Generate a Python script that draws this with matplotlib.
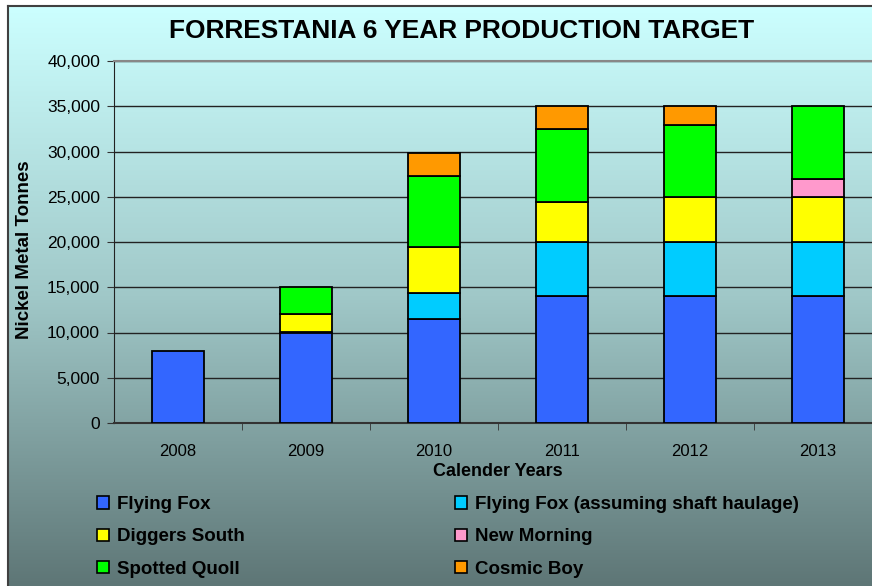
import numpy as np
import matplotlib.pyplot as plt
from matplotlib.colors import LinearSegmentedColormap
from matplotlib.patches import Patch

plt.rcParams['font.family'] = ['Liberation Sans', 'DejaVu Sans']

# данные
years = ['2008', '2009', '2010', '2011', '2012', '2013']
flying_fox = [8000, 10000, 11500, 14000, 14000, 14000]
flying_fox_shaft = [0, 0, 2900, 6000, 6000, 6000]
diggers_south = [0, 2000, 5000, 4400, 5000, 5000]
new_morning = [0, 0, 0, 0, 0, 2000]
spotted_quoll = [0, 3000, 7900, 8100, 7900, 8000]
cosmic_boy = [0, 0, 2500, 2500, 2100, 0]

series = [
    ('Flying Fox', flying_fox, '#3366FF'),
    ('Flying Fox (assuming shaft haulage)', flying_fox_shaft, '#00CCFF'),
    ('Diggers South', diggers_south, '#FFFF00'),
    ('New Morning', new_morning, '#FF99CC'),
    ('Spotted Quoll', spotted_quoll, '#00FF00'),
    ('Cosmic Boy', cosmic_boy, '#FF9900'),
]

W, H = 872, 586
fig = plt.figure(figsize=(W / 100, H / 100), dpi=100)
fig.patch.set_facecolor('white')

# фон с градиентом
bg = fig.add_axes([8 / W, 0, 1 - 8 / W, 1 - 6 / H])
cmap = LinearSegmentedColormap.from_list(
    'bg', [(0.0, '#CCFFFF'), (0.5, '#A0C8C8'), (1.0, '#5E7676')])
grad = np.linspace(0, 1, 256).reshape(-1, 1)
bg.imshow(grad, aspect='auto', cmap=cmap, extent=[0, 1, 0, 1], origin='upper')
bg.set_xticks([])
bg.set_yticks([])
for s in ['bottom', 'right']:
    bg.spines[s].set_visible(False)
for s in ['top', 'left']:
    bg.spines[s].set_color('#404040')
    bg.spines[s].set_linewidth(1.5)
bg.set_zorder(0)

# основной график
ax = fig.add_axes([114 / W, 1 - 423 / H, 768 / W, 362 / H])
ax.set_facecolor('none')
ax.set_zorder(1)

x = np.arange(len(years))
bottom = np.zeros(len(years))
for name, vals, color in series:
    vals = np.array(vals, dtype=float)
    idx = vals > 0
    ax.bar(x[idx], vals[idx], bottom=bottom[idx], width=0.4, color=color,
           edgecolor='black', linewidth=1.3, zorder=3)
    bottom += vals

ax.set_xlim(-0.5, len(years) - 0.5)
ax.set_ylim(0, 40000)
ax.set_yticks(np.arange(0, 40001, 5000))
ax.set_yticklabels([f'{v:,}' for v in range(0, 40001, 5000)], fontsize=12.5)
ax.set_xticks(x)
ax.set_xticklabels(years, fontsize=12)
ax.set_xticks(np.arange(0.5, len(years) - 0.5, 1), minor=True)
ax.tick_params(axis='x', which='major', length=0, pad=15)
ax.tick_params(axis='x', which='minor', length=5, color='#333333')
ax.tick_params(axis='y', length=5, color='#333333', pad=5)
ax.yaxis.grid(True, color='#222222', linewidth=1)
ax.set_axisbelow(True)

ax.spines['right'].set_visible(False)
ax.spines['top'].set_color('#888888')
ax.spines['top'].set_linewidth(1.5)
ax.spines['left'].set_color('#222222')
ax.spines['bottom'].set_color('#333333')
ax.spines['bottom'].set_linewidth(1.5)

ax.set_xlabel('Calender Years', fontsize=13, fontweight='bold', va='center')
ax.xaxis.set_label_coords((498 - 114) / 768, (423 - 471) / 362)
ax.set_ylabel('Nickel Metal Tonnes', fontsize=13.5, fontweight='bold', va='center')
ax.yaxis.set_label_coords((25 - 114) / 768, (423 - 250) / 362)

fig.text(462 / W, 1 - 31 / H, 'FORRESTANIA 6 YEAR PRODUCTION TARGET',
         fontsize=18.9, fontweight='bold', ha='center', va='center')

# легенда в две колонки
handles = [Patch(facecolor=c, edgecolor='black', linewidth=1.2) for _, _, c in series]
names = [n for n, _, _ in series]
for col, xpos in [(0, 97), (1, 455)]:
    hs = handles[col::2]
    ls = names[col::2]
    leg = fig.legend(hs, ls, loc='upper left', bbox_to_anchor=(xpos / W, 1 - 496 / H),
                     frameon=False, prop={'weight': 'bold', 'size': 13.5},
                     handlelength=0.65, handleheight=0.65, handletextpad=0.4,
                     labelspacing=0.82, borderpad=0, borderaxespad=0)

fig.savefig('out.png', dpi=100)
